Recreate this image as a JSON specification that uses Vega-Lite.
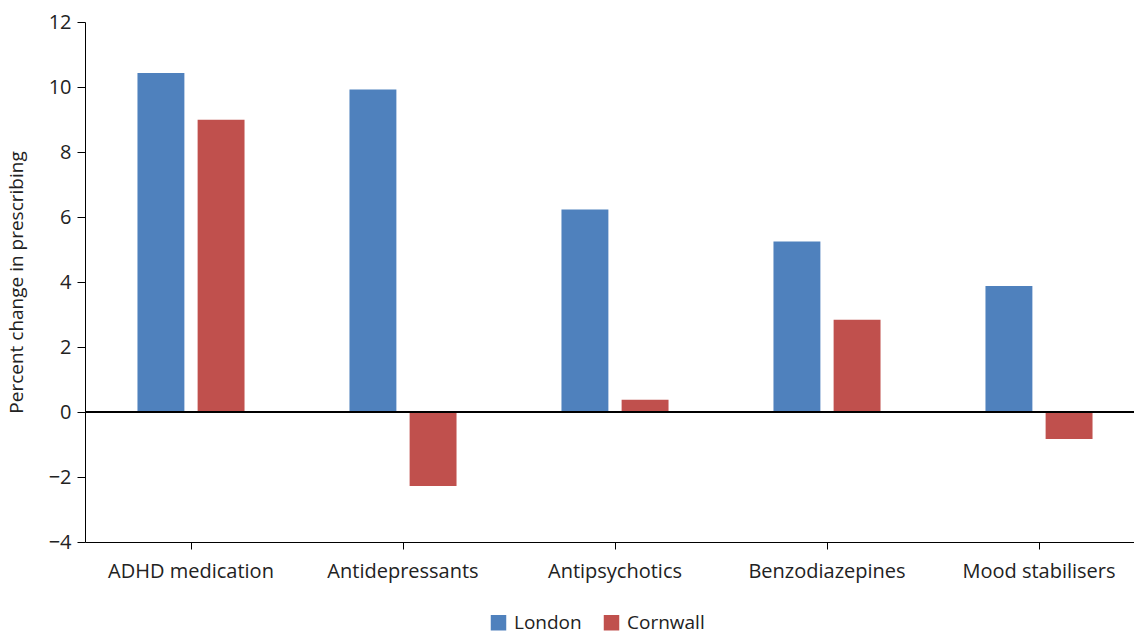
{
  "$schema": "https://vega.github.io/schema/vega-lite/v6.json",
  "width": 1060,
  "height": 520,
  "autosize": "none",
  "padding": {"left": 85, "top": 22, "right": 0, "bottom": 92},
  "background": "white",
  "data": {
    "values": [
      {"drug": "ADHD medication", "region": "London", "change": 10.43},
      {"drug": "ADHD medication", "region": "Cornwall", "change": 8.99},
      {"drug": "Antidepressants", "region": "London", "change": 9.92},
      {"drug": "Antidepressants", "region": "Cornwall", "change": -2.28},
      {"drug": "Antipsychotics", "region": "London", "change": 6.23},
      {"drug": "Antipsychotics", "region": "Cornwall", "change": 0.38},
      {"drug": "Benzodiazepines", "region": "London", "change": 5.25},
      {"drug": "Benzodiazepines", "region": "Cornwall", "change": 2.84},
      {"drug": "Mood stabilisers", "region": "London", "change": 3.88},
      {"drug": "Mood stabilisers", "region": "Cornwall", "change": -0.83}
    ]
  },
  "layer": [
    {
      "mark": {"type": "bar"},
      "encoding": {
        "x": {
          "field": "drug",
          "type": "nominal",
          "sort": null,
          "scale": {"paddingInner": 0.495, "paddingOuter": 0.2475},
          "axis": {
            "title": null,
            "labelAngle": 0,
            "labelFontSize": 20,
            "labelPadding": 12,
            "tickSize": 7,
            "domainColor": "#000",
            "tickColor": "#000"
          }
        },
        "xOffset": {
          "field": "region",
          "type": "nominal",
          "sort": ["London", "Cornwall"],
          "scale": {"paddingInner": 0.22}
        },
        "y": {
          "field": "change",
          "type": "quantitative",
          "scale": {"domain": [-4, 12], "nice": false},
          "axis": {
            "title": "Percent change in prescribing",
            "titleFontSize": 19,
            "titleFontWeight": "normal",
            "titlePadding": 22,
            "values": [-4, -2, 0, 2, 4, 6, 8, 10, 12],
            "labelFontSize": 20,
            "labelPadding": 6,
            "tickSize": 8,
            "grid": false,
            "domainColor": "#000",
            "tickColor": "#000"
          }
        },
        "color": {
          "field": "region",
          "type": "nominal",
          "sort": ["London", "Cornwall"],
          "scale": {"domain": ["London", "Cornwall"], "range": ["#4F81BD", "#C0504D"]},
          "legend": {
            "title": null,
            "orient": "none",
            "direction": "horizontal",
            "legendX": 404,
            "legendY": 591,
            "symbolType": "square",
            "symbolSize": 240,
            "symbolStrokeWidth": 0,
            "labelFontSize": 19,
            "columnPadding": 20,
            "labelOffset": 6
          }
        }
      }
    },
    {
      "mark": {"type": "rule", "color": "#000", "strokeWidth": 1.5},
      "encoding": {"y": {"datum": 0, "type": "quantitative"}}
    }
  ],
  "config": {
    "font": "Open Sans",
    "view": {"stroke": null},
    "axis": {"labelColor": "#222", "titleColor": "#222", "labelFont": "Open Sans", "titleFont": "Open Sans"},
    "legend": {"labelColor": "#222", "labelFont": "Open Sans"}
  }
}
